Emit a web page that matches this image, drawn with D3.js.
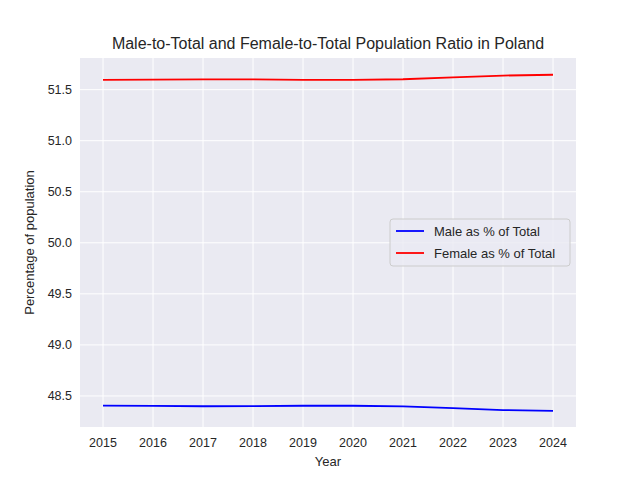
<!DOCTYPE html><html><head><script src="https://cdn.jsdelivr.net/npm/d3@7"></script>
<style>body{margin:0}</style></head><body><script>
const years=[2015,2016,2017,2018,2019,2020,2021,2022,2023,2024];
const female=[51.595,51.598,51.601,51.600,51.596,51.596,51.602,51.620,51.638,51.646];
const male=[48.405,48.402,48.399,48.400,48.404,48.404,48.398,48.380,48.362,48.354];
const yTicks=[48.5,49.0,49.5,50.0,50.5,51.0,51.5];
const series=[{name:"Male as % of Total",values:male,color:"#0000ff"},{name:"Female as % of Total",values:female,color:"#ff0000"}];
const W=640,H=480,L=80,R=576,T=58,B=427,F="Liberation Sans, Arial, sans-serif";
const svg=d3.select("body").append("svg").attr("width",W).attr("height",H).style("font-family",F);
svg.append("rect").attr("width",W).attr("height",H).attr("fill","#fff");
const x=d3.scaleLinear().domain([2014.54,2024.46]).range([L,R]);
const y=d3.scaleLinear().domain([48.196,51.81]).range([B,T]);
svg.append("rect").attr("x",L).attr("y",T).attr("width",R-L).attr("height",B-T).attr("fill","#eaeaf2");
const g=svg.append("g");
years.forEach(v=>g.append("line").attr("x1",x(v)).attr("x2",x(v)).attr("y1",T).attr("y2",B).attr("stroke","#fff"));
yTicks.forEach(v=>g.append("line").attr("x1",L).attr("x2",R).attr("y1",y(v)).attr("y2",y(v)).attr("stroke","#fff"));
years.forEach(v=>svg.append("text").attr("x",x(v)).attr("y",B+20).attr("text-anchor","middle").attr("font-size",12.5).attr("fill","#262626").text(v));
yTicks.forEach(v=>svg.append("text").attr("x",L-8).attr("y",y(v)+4.5).attr("text-anchor","end").attr("font-size",12.5).attr("fill","#262626").text(v.toFixed(1)));
const line=d3.line().x((d,i)=>x(years[i])).y(d=>y(d)).curve(d3.curveLinear);
series.forEach(s=>svg.append("path").attr("d",line(s.values)).attr("fill","none").attr("stroke",s.color).attr("stroke-width",1.8));
svg.append("text").attr("x",(L+R)/2).attr("y",49).attr("text-anchor","middle").attr("font-size",16).attr("fill","#262626").text("Male-to-Total and Female-to-Total Population Ratio in Poland");
svg.append("text").attr("x",(L+R)/2).attr("y",466).attr("text-anchor","middle").attr("font-size",13).attr("fill","#262626").text("Year");
svg.append("text").attr("transform",`translate(34,${(T+B)/2}) rotate(-90)`).attr("text-anchor","middle").attr("font-size",13).attr("fill","#262626").text("Percentage of population");
const lg=svg.append("g").attr("transform","translate(390,219)");
lg.append("rect").attr("width",180).attr("height",47).attr("rx",3).attr("fill","#eaeaf2").attr("fill-opacity",0.8).attr("stroke","#ccc");
series.forEach((s,i)=>{lg.append("line").attr("x1",6).attr("x2",34).attr("y1",12+i*22).attr("y2",12+i*22).attr("stroke",s.color).attr("stroke-width",1.8);
lg.append("text").attr("x",44).attr("y",16.5+i*22).attr("font-size",13).attr("fill","#262626").text(s.name);});
</script></body></html>
